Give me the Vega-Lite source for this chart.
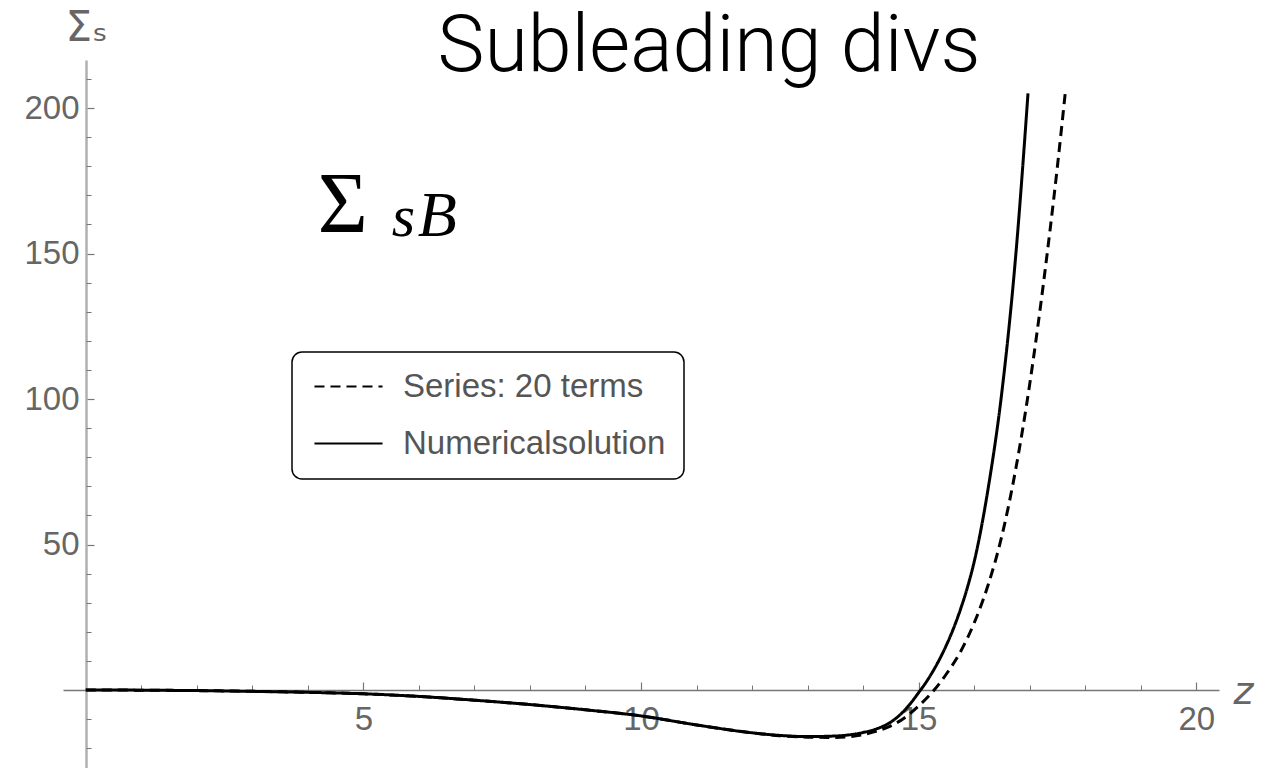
{
  "$schema": "https://vega.github.io/schema/vega-lite/v6.json",
  "width": 1156,
  "height": 708,
  "autosize": "none",
  "padding": {"left": 63, "top": 60, "right": 58, "bottom": 0},
  "background": "white",
  "title": {
    "text": "Subleading divs",
    "font": "Roboto",
    "fontWeight": 300,
    "fontSize": 79,
    "color": "black",
    "anchor": "middle",
    "frame": "group",
    "baseline": "alphabetic",
    "offset": -15,
    "dx": 68,
    "dy": 129
  },
  "config": {
    "view": {"stroke": null},
    "axis": {"grid": false, "labelFont": "Liberation Sans", "titleFont": "Liberation Sans"},
    "legend": {
      "orient": "none",
      "legendX": 229,
      "legendY": 292,
      "strokeColor": "black",
      "strokeWidth": 1.5,
      "cornerRadius": 10,
      "padding": 18,
      "fillColor": "white",
      "symbolType": "M-2.43,0H2.43",
      "symbolSize": 784,
      "symbolOffset": 22,
      "symbolStrokeWidth": 2,
      "symbolStrokeColor": "black",
      "labelFont": "Liberation Sans",
      "labelFontSize": 33,
      "labelColor": "#555555",
      "labelOffset": 38,
      "labelLimit": 400,
      "rowPadding": 23
    }
  },
  "datasets": {
    "curves": [
      {"z": 0, "value": 0, "series": "Numericalsolution"},
      {"z": 1, "value": -0.05, "series": "Numericalsolution"},
      {"z": 2, "value": -0.2, "series": "Numericalsolution"},
      {"z": 3, "value": -0.45, "series": "Numericalsolution"},
      {"z": 4, "value": -0.8, "series": "Numericalsolution"},
      {"z": 5, "value": -1.3, "series": "Numericalsolution"},
      {"z": 6, "value": -2.2, "series": "Numericalsolution"},
      {"z": 7, "value": -3.5, "series": "Numericalsolution"},
      {"z": 8, "value": -5.0, "series": "Numericalsolution"},
      {"z": 9, "value": -6.8, "series": "Numericalsolution"},
      {"z": 10, "value": -8.9, "series": "Numericalsolution"},
      {"z": 11, "value": -12.0, "series": "Numericalsolution"},
      {"z": 12, "value": -14.7, "series": "Numericalsolution"},
      {"z": 12.5, "value": -15.6, "series": "Numericalsolution"},
      {"z": 13, "value": -16.0, "series": "Numericalsolution"},
      {"z": 13.5, "value": -15.8, "series": "Numericalsolution"},
      {"z": 14, "value": -14.6, "series": "Numericalsolution"},
      {"z": 14.25, "value": -13.3, "series": "Numericalsolution"},
      {"z": 14.5, "value": -11.0, "series": "Numericalsolution"},
      {"z": 14.625, "value": -9.2, "series": "Numericalsolution"},
      {"z": 14.75, "value": -6.9, "series": "Numericalsolution"},
      {"z": 14.875, "value": -4.1, "series": "Numericalsolution"},
      {"z": 15, "value": -0.9, "series": "Numericalsolution"},
      {"z": 15.125, "value": 2.4, "series": "Numericalsolution"},
      {"z": 15.25, "value": 6.2, "series": "Numericalsolution"},
      {"z": 15.375, "value": 10.5, "series": "Numericalsolution"},
      {"z": 15.5, "value": 15.4, "series": "Numericalsolution"},
      {"z": 15.625, "value": 21, "series": "Numericalsolution"},
      {"z": 15.75, "value": 27.5, "series": "Numericalsolution"},
      {"z": 15.875, "value": 35, "series": "Numericalsolution"},
      {"z": 16, "value": 44, "series": "Numericalsolution"},
      {"z": 16.25, "value": 69, "series": "Numericalsolution"},
      {"z": 16.5, "value": 102.5, "series": "Numericalsolution"},
      {"z": 16.75, "value": 149.5, "series": "Numericalsolution"},
      {"z": 16.97, "value": 205, "series": "Numericalsolution"},
      {"z": 0, "value": 0, "series": "Series: 20 terms"},
      {"z": 1, "value": -0.05, "series": "Series: 20 terms"},
      {"z": 2, "value": -0.2, "series": "Series: 20 terms"},
      {"z": 3, "value": -0.45, "series": "Series: 20 terms"},
      {"z": 4, "value": -0.8, "series": "Series: 20 terms"},
      {"z": 5, "value": -1.3, "series": "Series: 20 terms"},
      {"z": 6, "value": -2.2, "series": "Series: 20 terms"},
      {"z": 7, "value": -3.5, "series": "Series: 20 terms"},
      {"z": 8, "value": -5.0, "series": "Series: 20 terms"},
      {"z": 9, "value": -6.8, "series": "Series: 20 terms"},
      {"z": 10, "value": -8.9, "series": "Series: 20 terms"},
      {"z": 11, "value": -12.0, "series": "Series: 20 terms"},
      {"z": 12, "value": -14.7, "series": "Series: 20 terms"},
      {"z": 12.5, "value": -15.7, "series": "Series: 20 terms"},
      {"z": 13, "value": -16.2, "series": "Series: 20 terms"},
      {"z": 13.5, "value": -16.3, "series": "Series: 20 terms"},
      {"z": 14, "value": -15.3, "series": "Series: 20 terms"},
      {"z": 14.25, "value": -14.1, "series": "Series: 20 terms"},
      {"z": 14.5, "value": -12.3, "series": "Series: 20 terms"},
      {"z": 14.75, "value": -9.5, "series": "Series: 20 terms"},
      {"z": 15, "value": -5.5, "series": "Series: 20 terms"},
      {"z": 15.28, "value": 0, "series": "Series: 20 terms"},
      {"z": 15.5, "value": 5.5, "series": "Series: 20 terms"},
      {"z": 15.75, "value": 13, "series": "Series: 20 terms"},
      {"z": 16, "value": 23, "series": "Series: 20 terms"},
      {"z": 16.25, "value": 36, "series": "Series: 20 terms"},
      {"z": 16.5, "value": 53, "series": "Series: 20 terms"},
      {"z": 16.75, "value": 76, "series": "Series: 20 terms"},
      {"z": 17, "value": 105, "series": "Series: 20 terms"},
      {"z": 17.25, "value": 140, "series": "Series: 20 terms"},
      {"z": 17.5, "value": 180, "series": "Series: 20 terms"},
      {"z": 17.64, "value": 205, "series": "Series: 20 terms"}
    ],
    "label": [{"z": 4.18, "value": 157.4}]
  },
  "layer": [
    {
      "data": {"name": "curves"},
      "mark": {"type": "line", "color": "black", "strokeWidth": 3, "interpolate": "monotone"},
      "encoding": {
        "x": {
          "field": "z", "type": "quantitative",
          "scale": {"domain": [-0.41, 20.41], "nice": false, "zero": false},
          "axis": {
            "orient": "bottom", "offset": -78, "values": [5, 10, 15, 20],
            "tickSize": -8, "tickColor": "#777777", "tickWidth": 1.2,
            "domainColor": "#777777", "domainWidth": 1.3,
            "labelFontSize": 33, "labelColor": "#666666", "labelPadding": 21,
            "title": "z", "titleFont": "DejaVu Sans", "titleFontStyle": "italic", "titleFontWeight": "normal",
            "titleFontSize": 38, "titleColor": "#666666",
            "titleX": 1170, "titleY": 13, "titleAlign": "left", "titleBaseline": "alphabetic", "titleAngle": 0
          }
        },
        "y": {
          "field": "value", "type": "quantitative",
          "scale": {"domain": [-26.8, 216.5], "nice": false, "zero": false},
          "axis": {
            "orient": "left", "offset": -23, "values": [50, 100, 150, 200],
            "tickSize": -8, "tickColor": "#777777", "tickWidth": 1.2,
            "domainColor": "#b0b0b0", "domainWidth": 2.5,
            "labelFontSize": 33, "labelColor": "#666666", "labelPadding": 15,
            "title": "Σₛ", "titleFont": "DejaVu Sans", "titleFontWeight": "normal",
            "titleFontSize": 42, "titleColor": "#666666",
            "titleX": 0, "titleY": -20, "titleAlign": "center", "titleBaseline": "alphabetic", "titleAngle": 0
          }
        },
        "strokeDash": {
          "field": "series", "type": "nominal",
          "scale": {"domain": ["Series: 20 terms", "Numericalsolution"], "range": [[10, 6], [1, 0]]},
          "legend": {"title": null}
        }
      }
    },
    {
      "data": {"name": "curves"},
      "mark": {"type": "point", "opacity": 0},
      "encoding": {
        "x": {
          "field": "z", "type": "quantitative",
          "axis": {
            "orient": "bottom", "offset": -78,
            "values": [1, 2, 3, 4, 6, 7, 8, 9, 11, 12, 13, 14, 16, 17, 18, 19],
            "tickSize": -5, "tickColor": "#777777", "tickWidth": 1,
            "domain": false, "labels": false, "title": null
          }
        },
        "y": {
          "field": "value", "type": "quantitative",
          "axis": {
            "orient": "left", "offset": -23,
            "values": [-20, -10, 10, 20, 30, 40, 60, 70, 80, 90, 110, 120, 130, 140, 160, 170, 180, 190, 210],
            "tickSize": -5, "tickColor": "#777777", "tickWidth": 1,
            "domain": false, "labels": false, "title": null
          }
        }
      }
    },
    {
      "data": {"name": "label"},
      "mark": {"type": "text", "text": "Σ", "font": "Liberation Serif", "fontSize": 86, "align": "left", "baseline": "alphabetic", "color": "black"},
      "encoding": {
        "x": {"field": "z", "type": "quantitative", "axis": null},
        "y": {"field": "value", "type": "quantitative", "axis": null}
      }
    },
    {
      "data": {"name": "label"},
      "mark": {"type": "text", "text": "s", "font": "Liberation Serif", "fontStyle": "italic", "fontSize": 60, "align": "left", "baseline": "alphabetic", "dx": 74, "dy": 4, "color": "black"},
      "encoding": {
        "x": {"field": "z", "type": "quantitative", "axis": null},
        "y": {"field": "value", "type": "quantitative", "axis": null}
      }
    },
    {
      "data": {"name": "label"},
      "mark": {"type": "text", "text": "B", "font": "Liberation Serif", "fontStyle": "italic", "fontSize": 64, "align": "left", "baseline": "alphabetic", "dx": 100, "dy": 4, "color": "black"},
      "encoding": {
        "x": {"field": "z", "type": "quantitative", "axis": null},
        "y": {"field": "value", "type": "quantitative", "axis": null}
      }
    }
  ],
  "resolve": {"axis": {"x": "independent", "y": "independent"}}
}
